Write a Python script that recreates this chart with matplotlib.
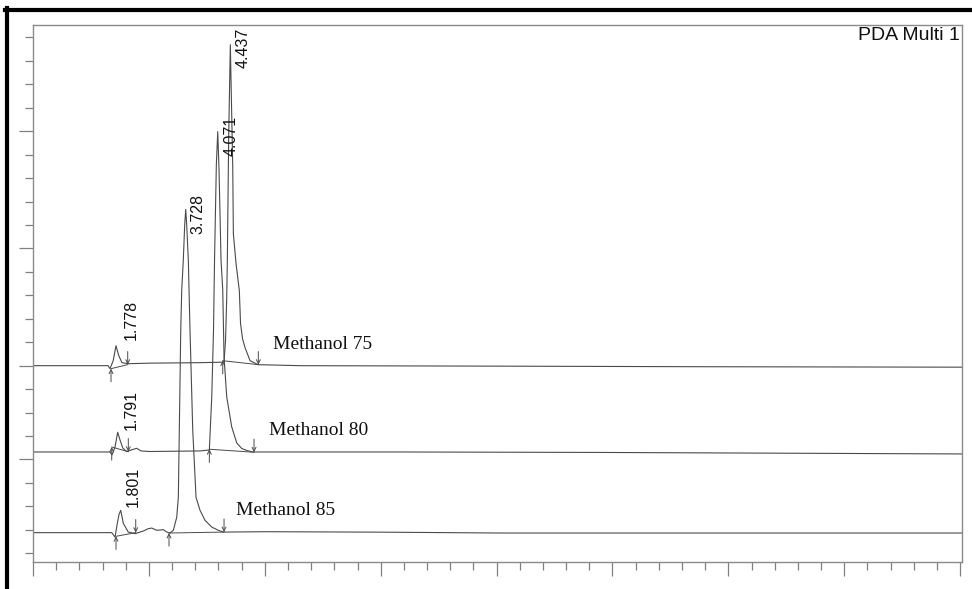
import numpy as np
import matplotlib
matplotlib.use("Agg")
import matplotlib.pyplot as plt
from matplotlib.lines import Line2D
from matplotlib.ticker import MultipleLocator, FixedLocator

# retention time (min) / signal (mAU, relative to each trace's own baseline)
t_75 = [0, 1.62, 1.66, 1.73, 1.79, 1.85, 1.92, 2.05, 2.52, 3.60, 4.08,
        4.121, 4.153, 4.179, 4.192, 4.222, 4.257, 4.272, 4.309, 4.322, 4.380,
        4.451, 4.477, 4.520, 4.574, 4.682, 4.854, 5.76, 10.08, 14.39, 20.04]
s_75 = [0, 0, -3.2, 5.3, 21.3, 10.7, 3.2, 2.1, 2.7, 3.2, 3.7,
        4.3, 26.7, 72.5, 111.9, 247.3, 342.2, 303.8, 211.1, 140.7, 108.7,
        80.0, 44.8, 28.8, 19.2, 5.3, 1.1, 0, -0.5, -1.1, -1.6]

t_80 = [0, 1.661, 1.704, 1.769, 1.827, 1.877, 1.935, 2.022, 2.114, 2.237, 2.330,
        2.524, 3.603, 3.804, 3.856, 3.894, 3.916, 3.955, 3.985, 4.013, 4.056,
        4.093, 4.121, 4.179, 4.287, 4.395, 4.503, 4.611, 4.746, 7.918, 12.23, 20.04]
s_80 = [0, 0, -3.2, 5.3, 21.0, 12.8, 4.3, 0.3, 2.1, 3.9, 1.1,
        0.5, 1.1, 2.1, 58.6, 130.1, 204.7, 306.0, 341.5, 300.6, 204.7,
        172.7, 101.3, 58.6, 26.7, 9.6, 3.7, 1.6, 0, 0, -0.5, -2.1]

t_85 = [0, 1.698, 1.769, 1.819, 1.856, 1.892, 1.948, 2.056, 2.201, 2.380, 2.481,
        2.561, 2.669, 2.740, 2.811, 2.885, 2.956, 3.027, 3.100, 3.135, 3.156,
        3.187, 3.208, 3.242, 3.272, 3.294, 3.316, 3.351, 3.366, 3.387, 3.446,
        3.517, 3.603, 3.711, 3.855, 3.998, 4.106, 5.042, 7.551, 10.08, 20.04]
s_85 = [0, 0, -4.7, 9.9, 19.5, 23.8, 9.9, 0.6, -1.1, 1.7, 4.1,
        4.9, 2.5, 2.8, 3.2, 0.6, -0.4, 2.5, 16.3, 37.6, 109.0,
        215.6, 258.3, 290.3, 327.6, 344.6, 327.6, 290.3, 258.3, 215.6, 109.0,
        37.6, 23.8, 13.1, 6.0, 2.5, 0.6, 1.0, 0.5, -0.4, -0.4]

trace_names = ["Methanol 75", "Methanol 80", "Methanol 85"]
trace_offset = [200, 108, 22]

# integration marks: start / end of each peak (min) and baseline level there
peak_labels = [["1.778", "4.437"], ["1.791", "4.071"], ["1.801", "3.728"]]
peak_start = [[1.683, 4.093], [1.698, 3.804], [1.791, 2.934]]
peak_start_s = [[-3.2, 5.3], [5.3, 2.9], [-3.9, -0.4]]
peak_end = [[2.043, 4.861], [2.056, 4.768], [2.216, 4.121]]
peak_end_s = [[1.1, 1.1], [0.3, -0.3], [0.0, 0.6]]

# where the text sits (layout only)
num_lab_pos = [[(2.114, 248.7), (4.531, 538.7)],
               [(2.114, 152.8), (4.272, 444.9)],
               [(2.157, 70.7), (3.560, 361.7)]]
name_lab_pos = [(6.246, 222.1), (6.170, 131.4), (5.448, 45.1)]

traces = [(t_75, s_75), (t_80, s_80), (t_85, s_85)]

fig = plt.figure(figsize=(9.72, 5.89), dpi=100)
ax = fig.add_axes([33 / 972, 27 / 589, 929 / 972, 537 / 589])

line_c = "#4a4a4a"
arr_len = 14

for i, (tt, ss) in enumerate(traces):
    off = trace_offset[i]
    ax.plot(tt, np.array(ss) + off, color=line_c, lw=0.8)
    for k in range(2):
        t0, y0 = peak_start[i][k], peak_start_s[i][k] + off
        t1, y1 = peak_end[i][k], peak_end_s[i][k] + off
        ax.plot([t0, t1], [y0, y1], color=line_c, lw=0.7)
        ax.annotate("", xy=(t0, y0), xytext=(t0, y0 - arr_len),
                    arrowprops=dict(arrowstyle="->", lw=0.7, color=line_c,
                                    shrinkA=0, shrinkB=0, mutation_scale=7))
        ax.annotate("", xy=(t1, y1), xytext=(t1, y1 + arr_len),
                    arrowprops=dict(arrowstyle="->", lw=0.7, color=line_c,
                                    shrinkA=0, shrinkB=0, mutation_scale=7))
        lx, ly = num_lab_pos[i][k]
        ax.text(lx, ly, peak_labels[i][k], rotation=90, ha="center", va="center",
                fontsize=11.5, family="Liberation Sans", color="#111111")
    nx, ny = name_lab_pos[i]
    ax.text(nx, ny, trace_names[i], ha="center", va="center", fontsize=14,
            family="Liberation Serif", color="#111111")

ax.set_xlim(0, 20.04)
ax.set_ylim(-9.3, 563.2)

ax.xaxis.set_major_locator(MultipleLocator(2.5))
ax.xaxis.set_minor_locator(MultipleLocator(0.5))
ax.yaxis.set_major_locator(FixedLocator([100, 200, 325, 450]))
ax.yaxis.set_minor_locator(MultipleLocator(25))
ax.tick_params(axis="both", which="major", direction="out", length=10,
               width=0.9, color="#808080", labelbottom=False, labelleft=False)
ax.tick_params(axis="both", which="minor", direction="out", length=6,
               width=0.9, color="#808080")
for sp in ax.spines.values():
    sp.set_color("#8a8a8a")
    sp.set_linewidth(1.0)

ax.text(0.998, 0.996, "PDA Multi 1", transform=ax.transAxes, ha="right",
        va="top", fontsize=14, family="Liberation Sans", color="#111111")

# thick black frame pieces (top and left edge of the original figure)
fig.add_artist(Line2D([5 / 972, 1], [1 - 9.5 / 589, 1 - 9.5 / 589],
                      transform=fig.transFigure, color="black", lw=3))
fig.add_artist(Line2D([7 / 972, 7 / 972], [0, 1 - 8 / 589],
                      transform=fig.transFigure, color="black", lw=3))

fig.savefig("out.png", dpi=100)
